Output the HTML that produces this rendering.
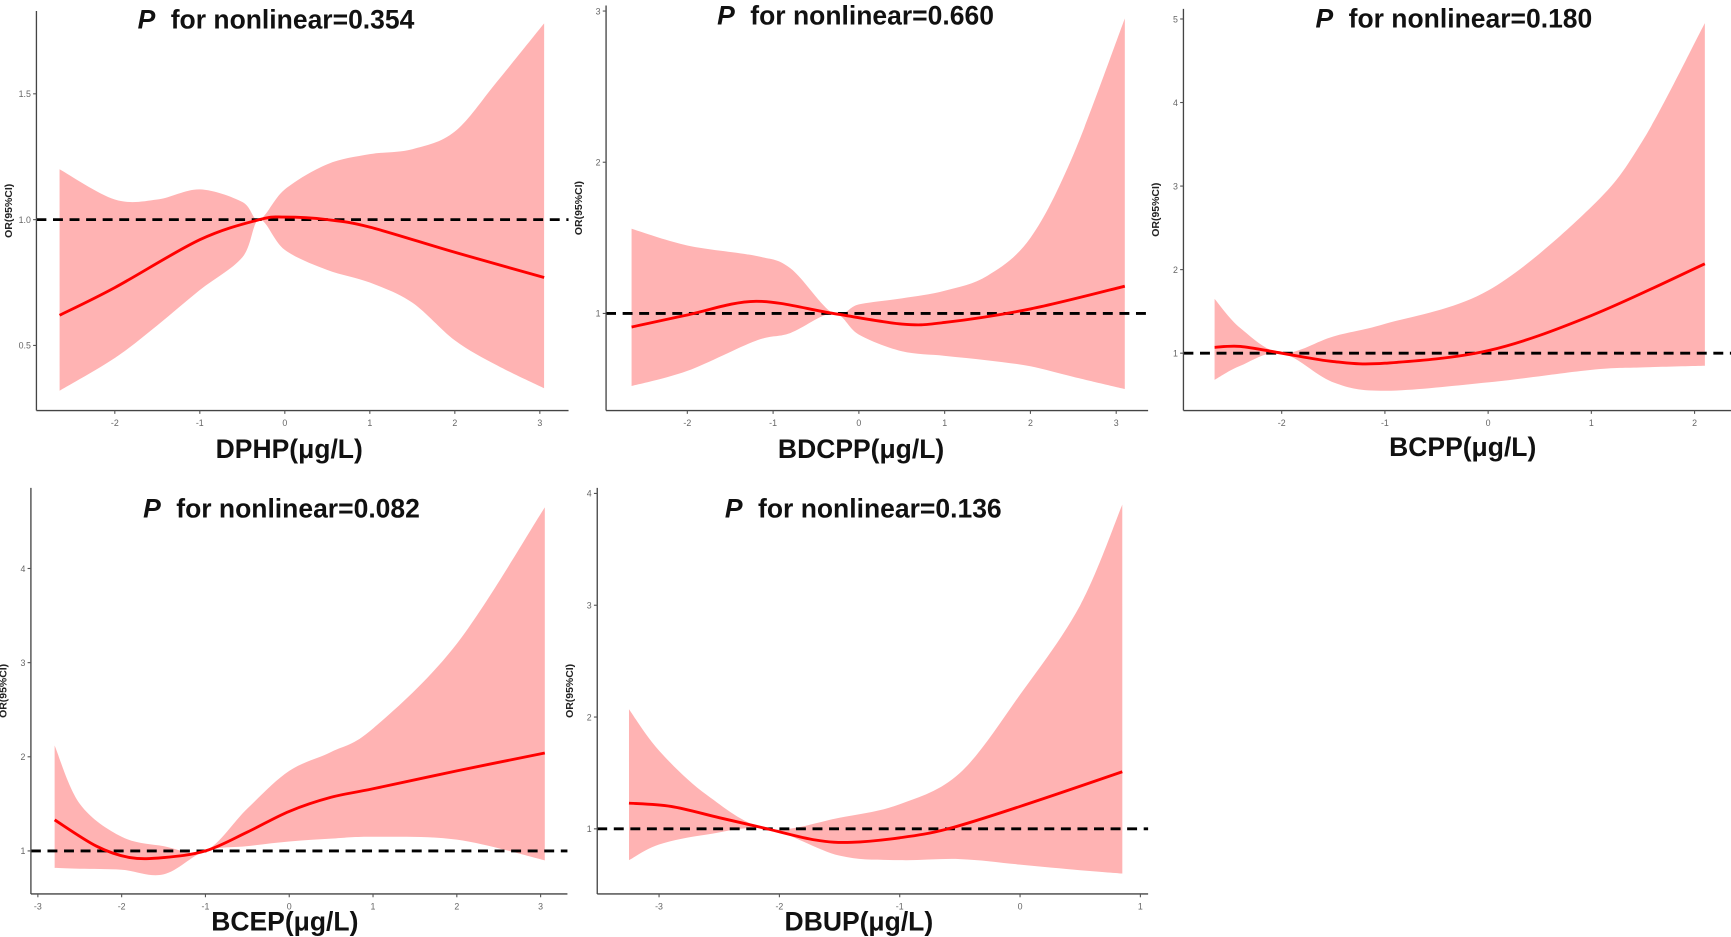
<!DOCTYPE html>
<html><head><meta charset="utf-8"><style>
html,body{margin:0;padding:0;background:#fff;}
svg{display:block;}
text{font-family:"Liberation Sans",sans-serif;}
</style></head><body>
<svg id="fig" width="1731" height="937" viewBox="0 0 1568 849" preserveAspectRatio="none" xmlns="http://www.w3.org/2000/svg"></svg>
<script>
// ---- Panel data ----
const titles = ["0.354","0.660","0.180","0.082","0.136"];
const xLabels = ["DPHP(μg/L)","BDCPP(μg/L)","BCPP(μg/L)","BCEP(μg/L)","DBUP(μg/L)"];
const xTicks1 = [-2,-1,0,1,2,3];
const xTicks2 = [-2,-1,0,1,2,3];
const xTicks3 = [-2,-1,0,1,2];
const xTicks4 = [-3,-2,-1,0,1,2,3];
const xTicks5 = [-3,-2,-1,0,1];
const yTicks1 = [0.5,1.0,1.5];
const yTicks2 = [1,2,3];
const yTicks3 = [1,2,3,4,5];
const yTicks4 = [1,2,3,4];
const yTicks5 = [1,2,3,4];
// series: x, estimate, upper, lower
const lineX1 = [-2.65,-2,-1,-0.3,0,0.5,1,2,3.05];
const lineY1 = [0.62,0.73,0.92,1.0,1.01,1.0,0.97,0.87,0.77];
const bandX1 = [-2.65,-2,-1.5,-1,-0.5,-0.3,0,0.5,1,1.5,2,2.5,3.05];
const upper1 = [1.2,1.08,1.08,1.12,1.07,1.0,1.12,1.22,1.26,1.28,1.35,1.55,1.78];
const lower1 = [0.32,0.45,0.58,0.72,0.85,1.0,0.88,0.8,0.75,0.67,0.52,0.42,0.33];
const lineX2 = [-2.65,-2,-1.2,-0.3,0.5,1,2,3.1];
const lineY2 = [0.91,0.99,1.08,1.0,0.93,0.94,1.03,1.18];
const bandX2 = [-2.65,-2,-1.2,-0.8,-0.3,0,0.5,1,1.5,2,2.5,3.1];
const upper2 = [1.56,1.45,1.38,1.3,1.0,1.06,1.1,1.15,1.25,1.5,2.05,2.95];
const lower2 = [0.52,0.62,0.82,0.87,1.0,0.86,0.75,0.72,0.69,0.65,0.58,0.5];
const lineX3 = [-2.65,-2.4,-2,-1.5,-1,0,1,2.1];
const lineY3 = [1.07,1.08,1.0,0.9,0.88,1.03,1.45,2.07];
const bandX3 = [-2.65,-2.4,-2,-1.5,-1,0,1,1.5,2.1];
const upper3 = [1.65,1.3,1.0,1.2,1.35,1.75,2.75,3.55,4.95];
const lower3 = [0.68,0.85,1.0,0.65,0.55,0.65,0.8,0.83,0.85];
const lineX4 = [-2.8,-2.3,-1.9,-1.5,-1,-0.5,0,0.5,1,2,3.05];
const lineY4 = [1.33,1.05,0.93,0.93,1.0,1.2,1.42,1.57,1.66,1.85,2.04];
const bandX4 = [-2.8,-2.5,-2,-1.5,-1,-0.5,0,0.5,1,2,3.05];
const upper4 = [2.12,1.5,1.15,1.05,1.0,1.45,1.85,2.05,2.3,3.2,4.65];
const lower4 = [0.82,0.81,0.8,0.75,1.0,1.05,1.1,1.13,1.15,1.12,0.9];
const lineX5 = [-3.25,-2.9,-2.5,-2.1,-1.7,-1.4,-1,-0.6,0,0.85];
const lineY5 = [1.23,1.2,1.1,1.0,0.9,0.88,0.92,1.0,1.2,1.51];
const bandX5 = [-3.25,-3,-2.6,-2.1,-1.5,-1,-0.5,0,0.5,0.85];
const upper5 = [2.07,1.7,1.3,1.0,1.1,1.22,1.5,2.2,3.0,3.9];
const lower5 = [0.72,0.86,0.95,1.0,0.76,0.72,0.73,0.68,0.63,0.6];

// layout (not data)
const panels = [
 {ax:33, ay:372, ax2:515, top:10, x0:258, xs:77, y1v:1.0, y1p:199, ys:228, cx:250, ty:26, lx:262, ly:415, dashEnd:515, lineX:lineX1,lineY:lineY1,bandX:bandX1,up:upper1,lo:lower1,xt:xTicks1,yt:yTicks1,yfmt:1},
 {ax:549, ay:372, ax2:1040, top:5, x0:778, xs:77.7, y1v:1, y1p:284, ys:137, cx:775, ty:22, lx:780, ly:415, dashEnd:1040, lineX:lineX2,lineY:lineY2,bandX:bandX2,up:upper2,lo:lower2,xt:xTicks2,yt:yTicks2,yfmt:0},
 {ax:1072, ay:372, ax2:1568, top:8, x0:1348, xs:93.5, y1v:1, y1p:320, ys:75.7, cx:1317, ty:25, lx:1325, ly:413, dashEnd:1568, lineX:lineX3,lineY:lineY3,bandX:bandX3,up:upper3,lo:lower3,xt:xTicks3,yt:yTicks3,yfmt:0},
 {ax:28, ay:810, ax2:514, top:442, x0:262, xs:75.9, y1v:1, y1p:771, ys:85.3, cx:255, ty:469, lx:258, ly:843, dashEnd:514, lineX:lineX4,lineY:lineY4,bandX:bandX4,up:upper4,lo:lower4,xt:xTicks4,yt:yTicks4,yfmt:0},
 {ax:541, ay:810, ax2:1040, top:442, x0:924, xs:109, y1v:1, y1p:751, ys:101.3, cx:782, ty:469, lx:778, ly:843, dashEnd:1040, lineX:lineX5,lineY:lineY5,bandX:bandX5,up:upper5,lo:lower5,xt:xTicks5,yt:yTicks5,yfmt:0}
];
const NS="http://www.w3.org/2000/svg";
const svg=document.getElementById('fig');
function mk(tag,attrs,parent){const e=document.createElementNS(NS,tag);for(const k in attrs)e.setAttribute(k,attrs[k]);(parent||svg).appendChild(e);return e;}
function smoothPts(pts){
  let d="";
  for(let i=0;i<pts.length-1;i++){
    const p0=pts[Math.max(0,i-1)],p1=pts[i],p2=pts[i+1],p3=pts[Math.min(pts.length-1,i+2)];
    const c1=[p1[0]+(p2[0]-p0[0])/6,p1[1]+(p2[1]-p0[1])/6];
    const c2=[p2[0]-(p3[0]-p1[0])/6,p2[1]-(p3[1]-p1[1])/6];
    d+=` C${c1[0].toFixed(1)},${c1[1].toFixed(1)} ${c2[0].toFixed(1)},${c2[1].toFixed(1)} ${p2[0].toFixed(1)},${p2[1].toFixed(1)}`;
  }
  return d;
}
panels.forEach((p,i)=>{
  const g=mk('g',{});
  
  
  const X=v=>p.x0+v*p.xs, Y=v=>p.y1p-(v-p.y1v)*p.ys;
  const up=p.bandX.map((x,k)=>[X(x),Y(p.up[k])]);
  const lo=p.bandX.map((x,k)=>[X(x),Y(p.lo[k])]).reverse();
  const d="M"+up[0][0]+","+up[0][1]+smoothPts(up)+" L"+lo[0][0]+","+lo[0][1]+smoothPts(lo)+" Z";
  const band=mk('path',{d:d,fill:'#ffb3b3',stroke:'none'},g);
  
  
  const ref=mk('line',{x1:p.ax,x2:p.dashEnd,y1:Y(1),y2:Y(1),stroke:'#000','stroke-width':2.6,'stroke-dasharray':'9 6'},g);
  
  
  const lp=p.lineX.map((x,k)=>[X(x),Y(p.lineY[k])]);
  const ln=mk('path',{d:"M"+lp[0][0]+","+lp[0][1]+smoothPts(lp),fill:'none',stroke:'#ff0000','stroke-width':2.6},g);
  
  
  const ya=mk('line',{x1:p.ax,x2:p.ax,y1:p.top,y2:p.ay,stroke:'#444','stroke-width':1.2},g);
  
  
  const xa=mk('line',{x1:p.ax,x2:p.ax2,y1:p.ay,y2:p.ay,stroke:'#444','stroke-width':1.2},g);
  
  
  p.xt.forEach(t=>{
    mk('line',{x1:X(t),x2:X(t),y1:p.ay,y2:p.ay+3,stroke:'#555','stroke-width':1},g);
    const tt=mk('text',{x:X(t),y:p.ay+14,'font-size':8,fill:'#666','text-anchor':'middle'},g);
    tt.textContent=t;
    
    
  });
  p.yt.forEach(t=>{
    mk('line',{x1:p.ax-3,x2:p.ax,y1:Y(t),y2:Y(t),stroke:'#555','stroke-width':1},g);
    const tt=mk('text',{x:p.ax-5,y:Y(t)+3,'font-size':8,fill:'#666','text-anchor':'end'},g);
    tt.textContent=p.yfmt?t.toFixed(1):t;
    
    
  });
  const yl=mk('text',{x:0,y:0,'font-size':9.5,'font-weight':'bold',fill:'#222','text-anchor':'middle',transform:`translate(${p.ax-22},${(p.top+p.ay)/2}) rotate(-90)`},g);
  yl.textContent="OR(95%CI)";
  
  
  const ti=mk('text',{x:p.cx,y:p.ty,'font-size':24,'font-weight':'bold',fill:'#111','text-anchor':'middle'},g);
  ti.innerHTML='<tspan font-style="italic">P</tspan><tspan dx="14">for nonlinear='+titles[i]+'</tspan>';
  
  
  const xl=mk('text',{x:p.lx,y:p.ly,'font-size':24,'font-weight':'bold',fill:'#111','text-anchor':'middle'},g);
  xl.textContent=xLabels[i];
  
  
});
</script>
</body></html>
